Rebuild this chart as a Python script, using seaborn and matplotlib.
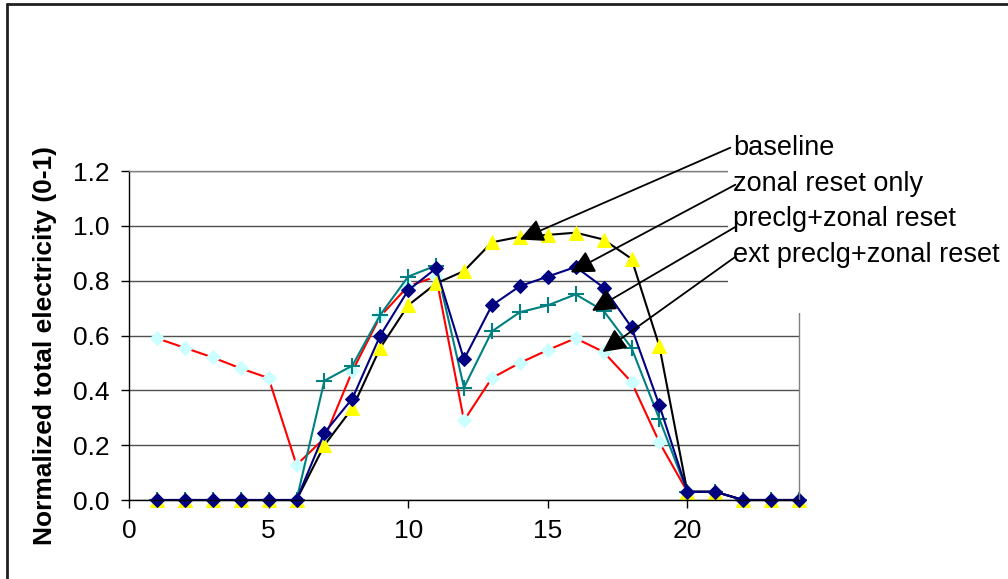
import pandas as pd
import matplotlib.pyplot as plt
import seaborn as sns
from matplotlib.lines import Line2D
from matplotlib.patches import Rectangle

# Hourly values (hour 1..24)
hours = list(range(1, 25))
baseline = [0, 0, 0, 0, 0, 0, 0.20, 0.335, 0.555, 0.71, 0.79, 0.835, 0.94, 0.96,
            0.967, 0.975, 0.95, 0.88, 0.56, 0.03, 0.03, 0, 0, 0]
zonal_reset = [0, 0, 0, 0, 0, 0, 0.245, 0.37, 0.60, 0.765, 0.845, 0.513, 0.71, 0.78,
               0.815, 0.85, 0.775, 0.63, 0.345, 0.03, 0.03, 0, 0, 0]
preclg_zonal = [0, 0, 0, 0, 0, 0, 0.435, 0.49, 0.675, 0.815, 0.855, 0.41, 0.615, 0.685,
                0.71, 0.75, 0.69, 0.555, 0.295, 0.03, 0.03, 0, 0, 0]
ext_preclg_zonal = [0.59, 0.555, 0.52, 0.48, 0.445, 0.128, 0.225, 0.47, 0.67, 0.78, 0.815,
                    0.29, 0.445, 0.50, 0.547, 0.59, 0.54, 0.43, 0.21, 0.03, 0.03, 0, 0, 0]

labels = ['baseline', 'zonal reset only', 'preclg+zonal reset', 'ext preclg+zonal reset']
# label text position (left, baseline) and arrow tail / head in data units
label_pos = [(21.65, 1.259), (21.65, 1.128), (21.65, 1.0), (21.65, 0.869)]
arrow_tail = [(21.54, 1.285), (21.72, 1.15), (21.72, 0.996), (21.72, 0.887)]
arrow_head = [(14.0, 0.95), (15.82, 0.83), (16.58, 0.69), (16.96, 0.54)]

df = pd.DataFrame({'hour': hours, 'baseline': baseline, 'zonal': zonal_reset,
                   'preclg': preclg_zonal, 'ext': ext_preclg_zonal})

sns.set_style('white')
plt.rcParams['font.family'] = ['Liberation Sans', 'DejaVu Sans']
plt.rcParams.update({'text.color': 'black', 'axes.labelcolor': 'black',
                     'xtick.color': 'black', 'ytick.color': 'black'})

fig = plt.figure(figsize=(10.08, 5.79), dpi=100)
ax = fig.add_axes([129 / 1008, 1 - 500 / 579, 670 / 1008, 329 / 579])

# series drawn in this order so navy diamonds end up on top
sns.lineplot(data=df, x='hour', y='ext', ax=ax, color='#FF0000', lw=1.5,
             marker='D', markersize=7.5, markerfacecolor='#CCFFFF', markeredgecolor='#CCFFFF')
sns.lineplot(data=df, x='hour', y='preclg', ax=ax, color='#008080', lw=1.5,
             marker='+', markersize=12, markeredgewidth=1.5, markeredgecolor='#008080')
sns.lineplot(data=df, x='hour', y='baseline', ax=ax, color='black', lw=1.5,
             marker='^', markersize=10, markerfacecolor='#FFFF00', markeredgecolor='#FFFF00')
sns.lineplot(data=df, x='hour', y='zonal', ax=ax, color='#000080', lw=1.5,
             marker='D', markersize=7.5, markerfacecolor='#000080', markeredgecolor='#000080')

for ln in ax.lines:
    ln.set_clip_on(False)

ax.set_xlim(0, 24)
ax.set_ylim(0, 1.2)
ax.set_xticks([0, 5, 10, 15, 20])
ax.set_yticks([0, 0.2, 0.4, 0.6, 0.8, 1.0, 1.2])
ax.set_yticklabels([f'{v:.1f}' for v in [0, 0.2, 0.4, 0.6, 0.8, 1.0, 1.2]])
ax.tick_params(axis='both', labelsize=19, length=6, width=1, color='black',
               labelcolor='black', direction='out', left=True, bottom=True)
ax.tick_params(axis='y', pad=8)
ax.tick_params(axis='x', pad=8)
ax.set_xlabel('')
ax.set_ylabel('Normalized total electricity (0-1)', fontsize=19, fontweight='bold',
              color='black')
ax.yaxis.set_label_coords(-0.125, 0.47)
ax.yaxis.label.set_va('center')

ax.grid(axis='y', color='#505050', lw=1)
ax.set_axisbelow(True)
for side in ['left', 'bottom']:
    ax.spines[side].set_color('black')
    ax.spines[side].set_linewidth(1)
for side in ['right', 'top']:
    ax.spines[side].set_color('#808080')
    ax.spines[side].set_linewidth(1)

# white label box hides the plot corner behind the labels
box = Rectangle((728 / 1008, 1 - 313 / 579), 280 / 1008, 185 / 579,
                transform=fig.transFigure, facecolor='white', edgecolor='none',
                zorder=4, clip_on=False)
ax.add_patch(box)

for lab, pos, tail, head in zip(labels, label_pos, arrow_tail, arrow_head):
    ax.text(pos[0], pos[1], lab, fontsize=19.5, ha='left', va='baseline',
            color='black', zorder=6, clip_on=False)
    ax.annotate('', xy=head, xytext=tail, annotation_clip=False, zorder=6,
                arrowprops=dict(arrowstyle='-|>', color='black', lw=1.3,
                                mutation_scale=36, shrinkA=0, shrinkB=0))

# outer chart border (top and left edges visible)
fig.add_artist(Line2D([7 / 1008, 7 / 1008], [0, 1 - 4 / 579], transform=fig.transFigure,
                      color='#202020', lw=2))
fig.add_artist(Line2D([7 / 1008, 1], [1 - 4 / 579, 1 - 4 / 579], transform=fig.transFigure,
                      color='#202020', lw=2))

fig.savefig('out.png', dpi=100)
